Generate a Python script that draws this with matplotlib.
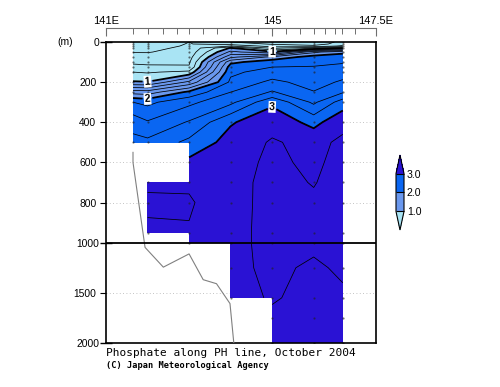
import numpy as np
import matplotlib
matplotlib.use('Agg')
import matplotlib.pyplot as plt
from matplotlib.colors import ListedColormap, BoundaryNorm
from matplotlib.ticker import FixedLocator, FixedFormatter

nan = np.nan

# ---- data -------------------------------------------------------------
lons = [141.65, 142.0, 143.0, 144.0, 145.0, 146.0, 146.7]
depths = [0, 10, 20, 30, 50, 75, 100, 125, 150, 200, 250, 300, 400, 500,
          600, 700, 800, 950, 1000, 1250, 1550, 1750, 2000]

po4_141_65 = [0.30, 0.31, 0.33, 0.35, 0.39, 0.48, 0.56, 0.66, 0.80, 1.02, 1.72, 2.20, 2.52, 2.66,
              nan, nan, nan, nan, nan, nan, nan, nan, nan]
po4_142_0 = [0.30, 0.31, 0.33, 0.35, 0.39, 0.47, 0.55, 0.64, 0.78, 1.01, 1.70, 2.15, 2.42, 2.65,
             nan, 3.10, 3.30, 3.10, nan, nan, nan, nan, nan]
po4_143_0 = [0.40, 0.41, 0.42, 0.44, 0.47, 0.52, 0.57, 0.62, 0.85, 1.45, 2.05, 2.35, 2.62, 2.85,
             3.05, 3.18, 3.215, 3.19, 3.13, nan, nan, nan, nan]
po4_144_0 = [0.20, 0.30, 0.60, 1.02, 1.25, 1.55, 1.95, 2.10, 2.16, 2.24, 2.40, 2.55, 2.98, 3.08,
             3.12, 3.13, 3.11, 3.13, 3.15, 3.15, 3.14, nan, nan]
po4_145_0 = [0.15, 0.18, 0.30, 0.55, 1.05, 1.85, 2.12, 2.20, 2.28, 2.45, 2.62, 2.96, 3.13, 3.22,
             3.24, 3.26, 3.28, 3.27, 3.25, 3.24, 3.215, 3.17, 3.12]
po4_146_0 = [0.15, 0.16, 0.22, 0.75, 1.75, 2.10, 2.15, 2.21, 2.25, 2.32, 2.41, 2.56, 2.94, 3.14,
             3.16, 3.19, 3.23, 3.24, 3.24, 3.17, 3.15, 3.14, 3.12]
po4_146_7 = [0.22, 0.24, 0.45, 0.98, 1.95, 2.10, 2.18, 2.25, 2.31, 2.43, 2.58, 2.90, 3.14, 3.24,
             3.27, 3.28, 3.28, 3.27, 3.26, 3.23, 3.17, 3.14, 3.12]

bottom_lon = [141.65, 141.65, 141.94, 142.38, 143.0, 143.34, 143.66, 143.985, 144.1]
bottom_depth = [550, 600, 1047, 1244, 1112, 1369, 1409, 1607, 2100]

fill_bounds = [1.0, 2.0, 3.0]
line_levels = [0.2, 0.4, 0.6, 0.8, 1.2, 1.4, 1.6, 1.8, 2.2, 2.4, 2.6, 2.8, 3.2]
thick_levels = [1.0, 2.0, 3.0]
depth_ticks_major = [0, 1000, 2000]
depth_ticks_minor = [200, 400, 600, 800, 1500]
lon_major = [141, 145, 147.5]
lon_major_labels = ['141E', '145', '147.5E']
station_ticks = [141.65, 142.0, 142.37, 142.7, 143.0, 143.33, 143.67, 144.0, 144.33,
                 144.67, 145.0, 145.33, 145.67, 146.0, 146.27, 146.51, 146.68, 146.99]

# ---- build field ------------------------------------------------------
profiles = [po4_141_65, po4_142_0, po4_143_0, po4_144_0, po4_145_0, po4_146_0, po4_146_7]
Z = np.ma.masked_invalid(np.array(profiles, dtype=float).T)
LON, DEP = np.meshgrid(lons, depths)

c_low = '#a9e4f4'
c_12 = '#6a98ee'
c_23 = '#0a66f2'
c_high = '#2a12d4'
cmap = ListedColormap([c_12, c_23])
cmap.set_under(c_low)
cmap.set_over(c_high)
norm = BoundaryNorm(fill_bounds, cmap.N)

plt.rcParams['font.family'] = ['Liberation Sans', 'DejaVu Sans']

fig = plt.figure(figsize=(5.0, 3.87), dpi=100)
L, R, T, B = 106 / 500, 376 / 500, 42 / 387, 343 / 387
ax = fig.add_axes([L, 1 - B, R - L, B - T])


def fwd(d):
    d = np.asarray(d, dtype=float)
    return np.where(d <= 1000, d, 1000 + (d - 1000) * 0.5)


def inv(y):
    y = np.asarray(y, dtype=float)
    return np.where(y <= 1000, y, 1000 + (y - 1000) * 2.0)


ax.set_yscale('function', functions=(fwd, inv))
ax.set_xlim(141, 147.5)
ax.set_ylim(2000, 0)

cf = ax.contourf(LON, DEP, Z, levels=fill_bounds, cmap=cmap, norm=norm,
                 extend='both', corner_mask=False, zorder=1)
ax.contour(LON, DEP, Z, levels=line_levels, colors='k', linewidths=0.55,
           corner_mask=False, zorder=2)
cs_thick = ax.contour(LON, DEP, Z, levels=thick_levels, colors='k', linewidths=1.3,
                      corner_mask=False, zorder=3)


# label positions derived from the station profiles
def level_depth(profile, level):
    v = np.array(profile[:13])
    return float(np.interp(level, v, depths[:13]))


manual = [(lons[1], level_depth(po4_142_0, 1.0)),
          (lons[4], level_depth(po4_145_0, 1.0)),
          (lons[1], level_depth(po4_142_0, 2.0)),
          (lons[4], level_depth(po4_145_0, 3.0))]
labels = ax.clabel(cs_thick, levels=thick_levels, manual=manual, fmt='%d',
                   fontsize=7.5, inline=True, inline_spacing=2)
for t in labels:
    t.set_fontweight('bold')
    t.set_bbox(dict(facecolor='white', edgecolor='none', pad=0.6))
    t.set_zorder(6)

# sample points
valid = ~np.ma.getmaskarray(Z)
ax.plot(LON[valid], DEP[valid], ls='none', marker='.', ms=1.2, color='#222222',
        alpha=0.6, zorder=2.5)

# bottom topography
ax.plot(bottom_lon, bottom_depth, color='#808080', lw=0.8, zorder=4, clip_on=True)

ax.axhline(1000, color='k', lw=1.3, zorder=5)

# grid
for d in depth_ticks_minor:
    ax.axhline(d, color='#b0b0b0', lw=0.6, ls=(0, (1, 3)), zorder=0.5)

# y axis ticks
ax.yaxis.set_major_locator(FixedLocator(depth_ticks_major))
ax.yaxis.set_major_formatter(FixedFormatter([str(v) for v in depth_ticks_major]))
ax.yaxis.set_minor_locator(FixedLocator(depth_ticks_minor))
ax.yaxis.set_minor_formatter(FixedFormatter([str(v) for v in depth_ticks_minor]))
ax.tick_params(axis='y', which='major', direction='inout', length=8, width=1.0,
               labelsize=7.4, pad=1)
ax.tick_params(axis='y', which='minor', direction='out', length=4, width=0.8,
               labelsize=7.4, pad=3)
ax.set_xticks([])
for s in ax.spines.values():
    s.set_linewidth(1.2)
    s.set_color('k')

ax.text(-0.152, 1.0, '(m)', transform=ax.transAxes, fontsize=7.4,
        ha='center', va='center')

# top longitude axis
ax2 = ax.twiny()
ax2.set_xlim(141, 147.5)
for k in ['left', 'right', 'bottom']:
    ax2.spines[k].set_visible(False)
ax2.spines['top'].set_position(('outward', 10))
ax2.spines['top'].set_color('#6e6e6e')
ax2.spines['top'].set_linewidth(0.8)
ax2.set_xticks(lon_major)
ax2.set_xticklabels(lon_major_labels)
ax2.xaxis.set_minor_locator(FixedLocator(station_ticks))
ax2.tick_params(axis='x', which='major', direction='in', length=6, width=0.8,
                color='#6e6e6e', labelsize=8, pad=1.5)
ax2.tick_params(axis='x', which='minor', direction='in', length=4, width=0.7,
                color='#6e6e6e')

# colorbar
cax = fig.add_axes([396 / 500, 1 - 230 / 387, 8 / 500, 75 / 387])
cb = fig.colorbar(cf, cax=cax, extend='both', extendfrac=0.49, drawedges=True,
                  ticks=fill_bounds, format='%.1f')
cb.outline.set_linewidth(0.8)
cb.dividers.set_linewidth(0.8)
cax.tick_params(length=0, labelsize=7.6, pad=2)

fig.text(106 / 500, 1 - 353 / 387, 'Phosphate along PH line, October 2004',
         family='DejaVu Sans Mono', fontsize=8.0, ha='left', va='center')
fig.text(106 / 500, 1 - 366 / 387, '(C) Japan Meteorological Agency',
         family='DejaVu Sans Mono', fontsize=6.2, fontweight='bold',
         ha='left', va='center')

fig.savefig('out.png', dpi=100)
